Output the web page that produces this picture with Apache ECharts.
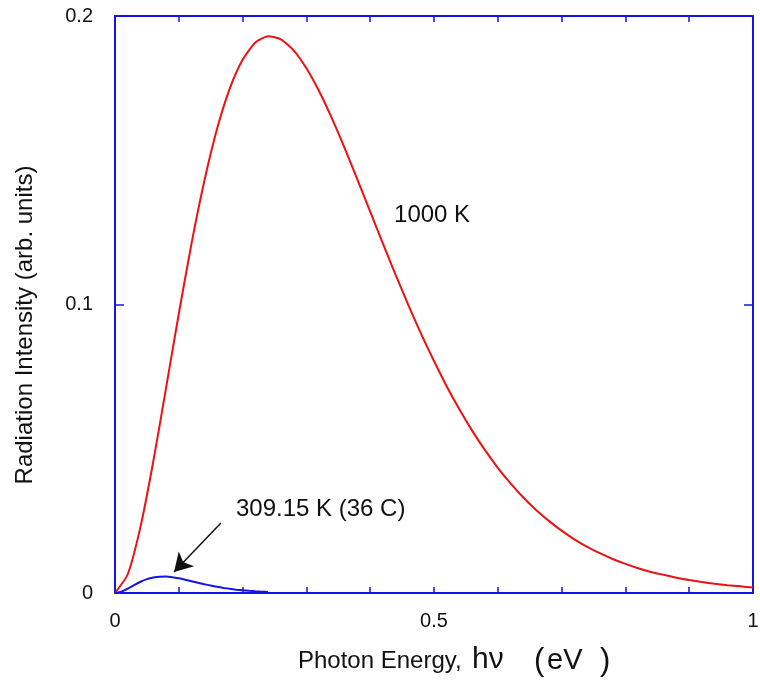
<!DOCTYPE html>
<html>
<head>
<meta charset="utf-8">
<script src="https://cdn.jsdelivr.net/npm/echarts@6/dist/echarts.min.js"></script>
<style>
  html, body { margin: 0; padding: 0; background: #ffffff; }
  #chart { width: 760px; height: 684px; }
</style>
</head>
<body>
<div id="chart"></div>
<script>
// Photon energy (eV) for the 1000 K curve
const energy1000 = [0, 0.02, 0.04, 0.06, 0.08, 0.10, 0.12, 0.14, 0.16, 0.18, 0.20, 0.22, 0.24, 0.26, 0.28, 0.30,
  0.32, 0.34, 0.36, 0.38, 0.40, 0.42, 0.44, 0.46, 0.48, 0.50, 0.52, 0.54, 0.56, 0.58, 0.60, 0.62, 0.64, 0.66,
  0.68, 0.70, 0.72, 0.74, 0.76, 0.78, 0.80, 0.82, 0.84, 0.86, 0.88, 0.90, 0.92, 0.94, 0.96, 0.98, 1.00];
// Radiation intensity (arb. units) at 1000 K
const intensity1000 = [0, 0.0065, 0.0230, 0.0456, 0.0710, 0.0968, 0.1212, 0.1428, 0.1609, 0.1749, 0.1848, 0.1908,
  0.1930, 0.1919, 0.1881, 0.1819, 0.1739, 0.1645, 0.1542, 0.1433, 0.1322, 0.1211, 0.1102, 0.0997, 0.0897, 0.0804,
  0.0716, 0.0636, 0.0562, 0.0495, 0.0434, 0.0380, 0.0331, 0.0288, 0.0250, 0.0216, 0.0186, 0.0160, 0.0138, 0.0118,
  0.0101, 0.0086, 0.0073, 0.0063, 0.0053, 0.0045, 0.0038, 0.0032, 0.0027, 0.0023, 0.0019];
// Photon energy (eV) for the 309.15 K curve
const energy309 = [0, 0.01, 0.02, 0.03, 0.04, 0.05, 0.06, 0.07, 0.08, 0.09, 0.10, 0.11, 0.12, 0.13, 0.14, 0.15,
  0.16, 0.17, 0.18, 0.19, 0.20, 0.21, 0.22, 0.23, 0.24];
// Radiation intensity (arb. units) at 309.15 K
const intensity309 = [0, 0.00047, 0.00152, 0.00275, 0.00389, 0.00480, 0.00539, 0.00567, 0.00568, 0.00546, 0.00509,
  0.00462, 0.00410, 0.00357, 0.00306, 0.00258, 0.00215, 0.00177, 0.00144, 0.00116, 0.00093, 0.00074, 0.00059,
  0.00046, 0.00036];
// Tick labels
const xTickLabels = { 0: '0', 0.5: '0.5', 1: '1' };
const yTickLabels = { 0: '0', 0.1: '0.1', 0.2: '0.2' };
// Annotation arrow (data coordinates: tail, head)
const arrowTail = [0.166, 0.0243];
const arrowHead = [0.0925, 0.0073];

const FONT = '"Liberation Sans", Arial, Helvetica, sans-serif';
const AXIS_BLUE = '#1414e6';

const zip = (xs, ys) => xs.map((x, i) => [x, ys[i]]);
const lookup = (map, v) => {
  for (const k in map) { if (Math.abs(Number(k) - v) < 1e-9) return map[k]; }
  return '';
};

const chart = echarts.init(document.getElementById('chart'), null, { renderer: 'canvas' });

const xBase = {
  type: 'value', min: 0, max: 1, interval: 0.5,
  axisLine: { show: true, onZero: false, lineStyle: { color: AXIS_BLUE, width: 2 } },
  axisTick: { show: true, inside: true, length: 6, lineStyle: { color: AXIS_BLUE, width: 1.5 } },
  minorTick: { show: true, splitNumber: 5, length: 6, lineStyle: { color: AXIS_BLUE, width: 1.5 } },
  splitLine: { show: false }, minorSplitLine: { show: false }
};
const yBase = {
  type: 'value', min: 0, max: 0.2, interval: 0.1,
  axisLine: { show: true, onZero: false, lineStyle: { color: AXIS_BLUE, width: 2 } },
  axisTick: { show: true, inside: true, length: 9, lineStyle: { color: AXIS_BLUE, width: 1.5 } },
  splitLine: { show: false }
};

chart.setOption({
  backgroundColor: '#ffffff',
  animation: false,
  grid: { left: 115, right: 7, top: 16, bottom: 91, containLabel: false, outerBoundsMode: 'none' },
  xAxis: [
    Object.assign({}, xBase, {
      position: 'bottom',
      axisLabel: { show: true, margin: 18, color: '#111', fontSize: 20, fontFamily: FONT,
        formatter: v => lookup(xTickLabels, v) }
    }),
    Object.assign({}, xBase, { position: 'top', axisLabel: { show: false } })
  ],
  yAxis: [
    Object.assign({}, yBase, {
      position: 'left',
      axisLabel: { show: true, margin: 22, color: '#111', fontSize: 20, fontFamily: FONT,
        formatter: v => lookup(yTickLabels, v) }
    }),
    Object.assign({}, yBase, { position: 'right', axisLabel: { show: false } })
  ],
  series: [
    {
      type: 'line', name: '1000 K', data: zip(energy1000, intensity1000),
      smooth: 0.2, showSymbol: false, symbol: 'none',
      lineStyle: { color: '#ee1111', width: 2 },
      z: 3,
      markPoint: {
        symbol: 'circle', symbolSize: 0, silent: true,
        data: [{ coord: [0.497, 0.131], value: '1000 K',
          label: { show: true, position: 'inside', formatter: '1000 K', color: '#111', fontSize: 24, fontFamily: FONT } }]
      }
    },
    {
      type: 'line', name: '309.15 K', data: zip(energy309, intensity309),
      smooth: 0.2, showSymbol: false, symbol: 'none',
      lineStyle: { color: '#1414e6', width: 2 },
      z: 4,
      markLine: {
        silent: true, symbol: ['none', 'arrow'], symbolSize: [16, 18],
        label: { show: false },
        lineStyle: { color: '#111', width: 1.5, type: 'solid' },
        data: [[{ coord: arrowTail }, { coord: arrowHead }]]
      }
    }
  ],
  graphic: [
    { type: 'text', left: 236, top: 497,
      style: { text: '309.15 K (36 C)', fill: '#111', font: '24px ' + FONT } },
    { type: 'text', x: 298, y: 661,
      style: { text: 'Photon Energy,', fill: '#111', font: '24px ' + FONT, verticalAlign: 'middle' } },
    { type: 'text', x: 472, y: 660,
      style: { text: 'hν', fill: '#111', font: '30px ' + FONT, verticalAlign: 'middle' } },
    { type: 'text', x: 534, y: 661,
      style: { text: '(', fill: '#111', font: '31px ' + FONT, verticalAlign: 'middle' } },
    { type: 'text', x: 547, y: 661,
      style: { text: 'eV', fill: '#111', font: '29px ' + FONT, verticalAlign: 'middle' } },
    { type: 'text', x: 600, y: 661,
      style: { text: ')', fill: '#111', font: '31px ' + FONT, verticalAlign: 'middle' } },
    { type: 'text', x: 25, y: 325, rotation: Math.PI / 2,
      style: { text: 'Radiation Intensity (arb. units)', fill: '#111', font: '24px ' + FONT,
        align: 'center', verticalAlign: 'middle' } }
  ]
});
</script>
</body>
</html>
